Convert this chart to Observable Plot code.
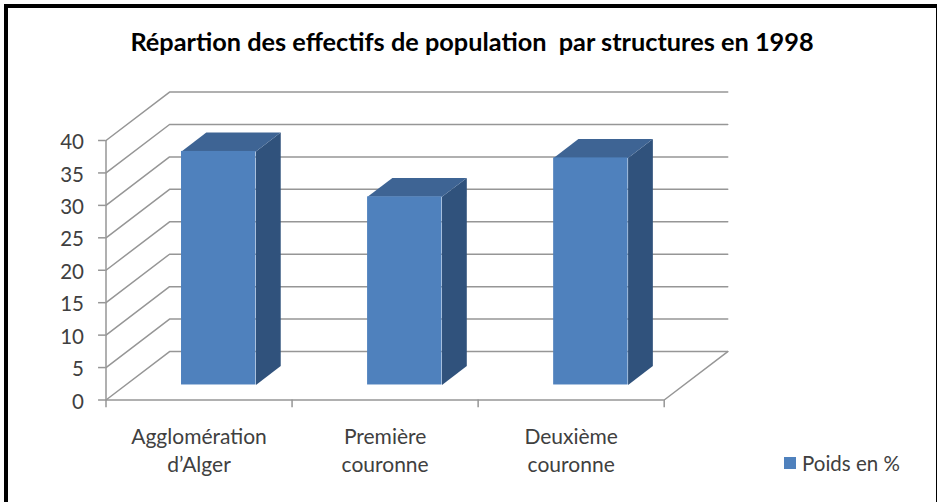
<!DOCTYPE html>
<html><head><meta charset="utf-8">
<script src="https://cdn.jsdelivr.net/npm/d3@7"></script>
<script src="https://cdn.jsdelivr.net/npm/@observablehq/plot@0.6"></script>
<style>
html,body{margin:0;padding:0;background:#fff}
#page{position:relative;width:938px;height:502px;overflow:hidden;background:#fff;font-family:Lato,sans-serif}
#frame{position:absolute;left:4px;top:4px;width:928px;height:510px;border-left:4px solid #000;border-top:4px solid #000;border-right:1px solid #000}
#title{position:absolute;left:0;top:26px;width:944px;height:34px;text-align:center;white-space:pre;font-size:25.3px;font-weight:700;color:#000;line-height:30px}
#chart{position:absolute;left:0;top:70px}
#chart svg{display:block}
#legend{position:absolute;left:784px;top:451px;display:flex;align-items:center;font-size:20.5px;color:#404040;line-height:24px}
#legend i{display:block;width:12px;height:12px;background:#4f81bd;margin-right:6px}
</style></head>
<body>
<div id="page">
  <div id="frame"></div>
  <div id="title"></div>
  <div id="chart"></div>
  <div id="legend"><i></i><span id="lg"></span></div>
</div>
<script>
const titleText = "Répartion des effectifs de population  par structures en 1998";
const seriesName = "Poids en %";
const categories = ["Agglomération\nd’Alger", "Première\ncouronne", "Deuxième\ncouronne"];
const values = [36, 29, 35];
const yTicks = [0, 5, 10, 15, 20, 25, 30, 35, 40];

document.getElementById("title").textContent = titleText;
document.getElementById("lg").textContent = seriesName;

// oblique projection of the depth axis (0 = front wall, 1 = back wall) onto the x and y scales
const depthX = 0.3415, depthY = 7.47;
const px = (c, d) => c + d * depthX;
const py = (v, d) => v + d * depthY;
const barLo = 0.3, barHi = 0.7, dFront = 0.31, dBack = 0.70;
const grid = "#969696";

const gridPts = yTicks.flatMap(v => [
  {v, x: px(0, 0), y: py(v, 0)},
  {v, x: px(0, 1), y: py(v, 1)},
  {v, x: px(3, 1), y: py(v, 1)}
]);
const floorEdge = [{x: px(3, 0), y: py(0, 0)}, {x: px(3, 1), y: py(0, 1)}];

const bars = values.map((v, i) => ({i, v}));
const side = bars.flatMap(({i, v}) => [
  {i, x: px(i + barHi, dFront), y: py(0, dFront)},
  {i, x: px(i + barHi, dBack), y: py(0, dBack)},
  {i, x: px(i + barHi, dBack), y: py(v, dBack)},
  {i, x: px(i + barHi, dFront), y: py(v, dFront)}
]);
const top3d = bars.flatMap(({i, v}) => [
  {i, x: px(i + barLo, dFront), y: py(v, dFront)},
  {i, x: px(i + barHi, dFront), y: py(v, dFront)},
  {i, x: px(i + barHi, dBack), y: py(v, dBack)},
  {i, x: px(i + barLo, dBack), y: py(v, dBack)}
]);

const plot = Plot.plot({
  width: 938, height: 432,
  marginLeft: 105.5, marginRight: 274.3, marginTop: 70, marginBottom: 102.5,
  style: {background: "transparent", fontFamily: "Lato, sans-serif", overflow: "visible"},
  x: {domain: [0, 3]},
  y: {domain: [0, 40]},
  marks: [
    Plot.line(gridPts, {x: "x", y: "y", z: "v", stroke: grid, strokeWidth: 1.5}),
    Plot.line(floorEdge, {x: "x", y: "y", stroke: grid, strokeWidth: 1.5}),
    Plot.ruleX([0], {y1: -1.2, y2: 40, stroke: grid, strokeWidth: 1.5}),
    Plot.ruleY([0], {x1: 0, x2: 3, stroke: grid, strokeWidth: 1.5}),
    Plot.ruleY(yTicks, {x1: -0.04, x2: 0, stroke: grid, strokeWidth: 1.5}),
    Plot.ruleX([1, 2, 3], {y1: -1.2, y2: 0, stroke: grid, strokeWidth: 1.5}),
    Plot.axisY({ticks: yTicks, tickSize: 0, tickPadding: 22, dy: 2, fontSize: 20.5, fill: "#404040", label: null, tickFormat: d => d}),
    Plot.axisX({ticks: [0.5, 1.5, 2.5], tickSize: 0, tickPadding: 24, fontSize: 21, lineHeight: 1.33, fill: "#404040", label: null,
      tickFormat: d => categories[Math.floor(d)]}),
    Plot.line(side, {x: "x", y: "y", z: "i", fill: "#30527c", stroke: "none"}),
    Plot.line(top3d, {x: "x", y: "y", z: "i", fill: "#3e6494", stroke: "none"}),
    Plot.rect(bars, {x1: d => px(d.i + barLo, dFront), x2: d => px(d.i + barHi, dFront),
      y1: () => py(0, dFront), y2: d => py(d.v, dFront), fill: "#4f81bd"})
  ]
});
document.getElementById("chart").appendChild(plot);
</script>
</body></html>
